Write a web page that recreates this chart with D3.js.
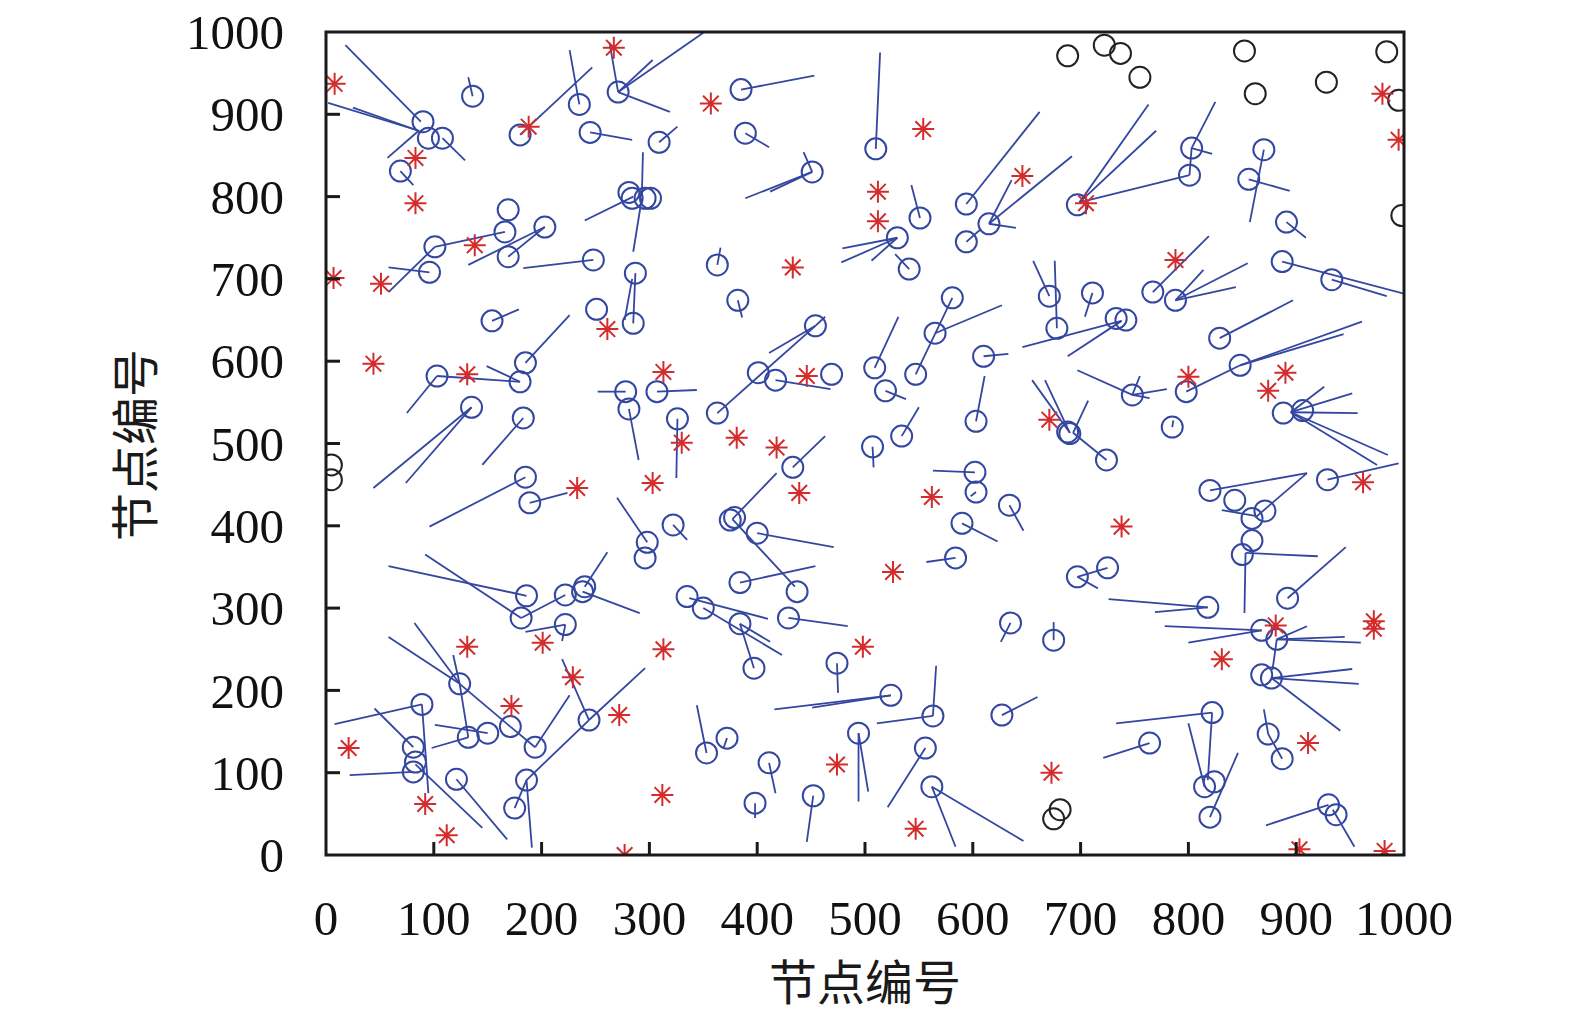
<!DOCTYPE html>
<html>
<head>
<meta charset="utf-8">
<title>节点编号</title>
<script src="https://d3js.org/d3.v7.min.js"></script>
<style>
  html, body { margin: 0; padding: 0; background: #fff; overflow: hidden; }
  svg { display: block; }
  .tick-label { font-family: "Liberation Serif", "DejaVu Serif", serif; font-size: 49px; fill: #111; }
  .axis-title { font-family: "Noto Sans CJK SC", sans-serif; font-size: 48px; fill: #1a1a1a; }
  .link { stroke: #3447a0; stroke-width: 1.8px; fill: none; }
  .node { stroke: #3447a0; stroke-width: 2px; fill: none; }
  .lone { stroke: #222; stroke-width: 2px; fill: none; }
  .anchor { stroke: #d42c2c; stroke-width: 2px; fill: none; }
</style>
</head>
<body>
<svg id="chart" width="1575" height="1018"></svg>
<script>
"use strict";

// tick values for both axes
const ticks = [0, 100, 200, 300, 400, 500, 600, 700, 800, 900, 1000];

// red asterisks (anchor nodes)
const anchors = [
  [8,937],[267,981],[83,847],[83,792],[188,885],[357,913],[554,882],[512,806],[512,770],
  [433,714],[646,825],[705,792],[980,925],[995,869],[788,723],[7,701],[51,694],[138,741],
  [261,639],[44,597],[131,584],[233,446],[313,587],[330,501],[303,452],[446,582],[381,507],
  [418,495],[439,440],[671,529],[800,581],[890,586],[874,564],[962,453],[738,399],[562,435],
  [526,344],[131,253],[201,258],[313,250],[229,216],[172,181],[272,170],[21,130],[92,62],
  [112,24],[312,73],[277,0],[498,253],[474,110],[547,32],[881,279],[972,284],[972,275],
  [831,238],[911,136],[673,100],[903,7],[982,5]
];

// black circles (nodes without links)
const loneNodes = [
  [688,971],[722,984],[737,974],[755,945],[852,977],[862,925],[928,939],[984,976],
  [995,917],[998,777],[5,474],[5,456],[681,55],[675,44]
];

// blue circles (located nodes)
const nodes = [
  [90,891],[95,871],[108,871],[69,831],[136,922],[180,875],[235,912],[271,927],[245,878],
  [309,866],[281,805],[284,798],[296,798],[301,798],[169,784],[166,757],[101,739],[203,763],
  [169,727],[96,708],[248,723],[287,707],
  [385,930],[389,877],[451,830],[510,858],[551,774],[530,750],[541,712],[363,717],[382,674],
  [594,791],[615,767],[594,745],[581,677],[671,679],[678,640],
  [697,790],[801,826],[803,859],[870,857],[856,821],[891,769],[767,684],[788,674],[887,721],
  [933,699],[711,683],
  [154,649],[251,663],[285,646],[103,582],[185,598],[180,575],[135,544],[183,531],[185,459],
  [189,428],[278,563],[281,542],[307,563],[326,530],[322,401],[298,380],[296,361],[240,326],
  [454,643],[401,586],[417,577],[469,584],[363,537],[433,471],[375,407],[379,410],
  [400,391],[384,331],[509,592],[519,564],[547,584],[565,634],[534,509],[507,496],[610,606],
  [603,527],[602,465],[603,441],[634,425],[590,403],[584,361],[733,652],[742,650],[688,514],
  [690,512],[724,480],
  [829,628],[848,595],[798,563],[748,559],[785,520],[888,537],[906,540],[929,456],[820,443],
  [843,431],[871,418],[859,409],[859,382],[850,365],[892,312],[725,349],[697,338],
  [186,315],[181,288],[222,316],[238,320],[222,280],[124,208],[89,183],[81,131],[81,101],
  [83,113],[132,143],[150,148],[171,156],[194,131],[244,164],[186,91],[175,57],[121,92],[335,314],
  [437,320],[350,300],[384,281],[397,227],[429,288],[474,233],[524,194],[563,169],
  [635,282],[627,170],[353,124],[372,142],[411,112],[398,63],[452,72],[494,148],[556,130],[562,83],
  [818,301],[675,261],[868,273],[882,262],[868,219],[877,215],[822,173],[764,136],[874,147],
  [887,117],[815,83],[824,89],[820,46],[930,61],[937,49]
];

// blue line segments: [x1, y1, x2, y2]
const links = [
  [86,880,2,914],[86,880,25,908],[86,880,57,847],[88,891,18,984],[108,871,129,844],
  [69,831,81,814],[136,922,132,945],[180,875,247,957],[235,912,226,978],
  [271,927,263,987],[271,927,350,999],[271,927,303,966],[271,927,319,903],
  [245,878,284,869],[309,866,326,885],[293,800,294,854],[285,800,240,771],[293,798,285,733],
  [101,739,166,757],[203,763,132,717],[169,727,203,763],[96,708,58,714],[101,739,58,684],
  [248,723,183,713],
  [385,930,453,947],[389,877,411,860],[451,830,443,854],[451,830,389,798],[451,830,412,806],
  [510,858,514,975],[551,774,543,814],[530,750,479,737],[530,750,478,720],[530,750,506,722],
  [541,712,528,730],[363,717,366,738],[382,674,386,653],[594,791,662,903],
  [615,767,636,820],[615,767,692,849],[615,767,640,762],[594,745,607,760],
  [671,679,656,722],[678,640,676,722],
  [699,793,763,912],[699,793,770,880],[699,793,801,826],[803,859,825,915],[803,859,822,852],
  [803,859,801,826],[870,857,857,769],[856,821,894,807],[891,769,909,750],[767,684,819,752],
  [788,674,814,711],[788,674,855,719],[788,674,844,690],[887,721,1000,682],[933,699,984,679],
  [711,683,704,654],
  [154,649,179,663],[285,646,287,707],[277,650,284,700],[103,582,75,537],[103,582,180,575],
  [185,598,226,656],[180,575,149,594],[135,544,44,446],[135,544,74,452],[183,531,145,474],
  [185,459,96,399],[189,428,224,440],[278,563,252,563],[281,542,290,480],[307,563,344,565],
  [326,530,325,458],[322,401,335,383],[298,380,270,434],[240,326,261,368],
  [454,643,411,610],[454,643,463,654],[454,643,363,537],[417,577,468,566],
  [433,471,463,509],[377,408,418,464],[400,391,471,374],[377,408,435,326],[384,331,454,351],
  [509,592,531,654],[519,564,538,554],[547,584,581,677],[565,634,627,668],[534,509,550,544],
  [507,496,508,471],[610,606,633,609],[603,527,611,582],[602,465,563,467],[603,441,598,436],
  [634,425,647,394],[590,403,623,381],[584,361,557,356],
  [738,649,646,617],[738,649,688,606],[690,513,655,577],[690,513,667,577],[693,513,707,552],
  [693,513,724,480],
  [829,628,897,674],[848,595,961,648],[848,595,944,633],[798,563,848,595],
  [748,559,697,589],[748,559,780,566],[748,559,764,555],[748,559,755,582],[785,520,786,528],
  [895,538,926,569],[895,538,952,561],[895,538,957,537],[895,538,985,486],[895,538,975,474],
  [929,456,995,476],[820,443,910,464],[862,410,910,464],[862,412,831,419],
  [853,367,920,363],[853,367,852,294],[892,312,946,374],[725,349,697,338],[697,338,716,324],
  [186,315,58,351],[181,288,92,365],[238,320,291,294],[222,316,181,288],[222,280,185,271],
  [222,280,219,260],[124,208,58,265],[124,208,82,282],[124,208,118,243],[124,208,132,143],
  [124,208,171,156],[89,183,8,159],[89,183,95,75],[81,131,45,178],[81,101,22,97],
  [83,110,145,33],[150,148,101,158],[132,143,98,130],[171,156,194,131],[194,131,226,194],
  [244,164,296,227],[244,164,186,91],[244,164,219,238],[186,91,191,9],[186,91,175,57],
  [121,92,168,19],
  [337,312,410,287],[350,300,423,243],[384,281,397,227],[384,281,412,259],
  [429,288,484,278],[474,233,475,197],[524,194,416,177],[524,194,451,179],[563,169,566,230],
  [563,169,511,160],[635,282,626,259],[627,170,660,192],[353,124,344,182],[372,142,369,131],
  [411,112,417,75],[398,63,398,45],[452,72,446,16],[494,148,494,65],[494,148,503,77],
  [556,130,521,58],[562,83,584,10],[562,83,647,17],
  [818,301,726,311],[818,301,769,295],[675,261,675,283],[868,273,778,278],[868,273,800,258],
  [882,262,910,278],[882,262,945,265],[882,262,960,258],[882,262,878,225],
  [877,215,952,226],[877,215,958,208],[877,215,941,151],[822,173,733,160],[822,173,818,91],
  [764,136,721,118],[874,147,870,177],[874,147,887,117],[815,83,800,160],[820,46,846,124],
  [930,61,872,36],[934,55,954,10]
];

const svg = d3.select("#chart");
const plot = { left: 326, right: 1404, top: 32, bottom: 855 };

const x = d3.scaleLinear().domain([0, 1000]).range([plot.left, plot.right]);
const y = d3.scaleLinear().domain([0, 1000]).range([plot.bottom, plot.top]);

svg.append("clipPath").attr("id", "clip")
  .append("rect")
  .attr("x", plot.left).attr("y", plot.top)
  .attr("width", plot.right - plot.left).attr("height", plot.bottom - plot.top);

const g = svg.append("g").attr("clip-path", "url(#clip)");

g.selectAll("line.link")
  .data(links)
  .enter().append("line")
  .attr("class", "link")
  .attr("x1", d => x(d[0])).attr("y1", d => y(d[1]))
  .attr("x2", d => x(d[2])).attr("y2", d => y(d[3]));

g.selectAll("circle.node")
  .data(nodes)
  .enter().append("circle")
  .attr("class", "node")
  .attr("cx", d => x(d[0])).attr("cy", d => y(d[1]))
  .attr("r", 10.5);

g.selectAll("circle.lone")
  .data(loneNodes)
  .enter().append("circle")
  .attr("class", "lone")
  .attr("cx", d => x(d[0])).attr("cy", d => y(d[1]))
  .attr("r", 10.5);

// asterisk: plus and cross overlaid
const s = 11, t = 7.8;
const starPath = `M${-s},0L${s},0M0,${-s}L0,${s}M${-t},${-t}L${t},${t}M${-t},${t}L${t},${-t}`;
g.selectAll("path.anchor")
  .data(anchors)
  .enter().append("path")
  .attr("class", "anchor")
  .attr("d", starPath)
  .attr("transform", d => `translate(${x(d[0])},${y(d[1])})`);

// frame
svg.append("rect")
  .attr("x", plot.left).attr("y", plot.top)
  .attr("width", plot.right - plot.left).attr("height", plot.bottom - plot.top)
  .attr("fill", "none").attr("stroke", "#1a1a1a").attr("stroke-width", 3);

// inward ticks
const axes = svg.append("g").attr("stroke", "#1a1a1a").attr("stroke-width", 3);
axes.selectAll("line.ytick")
  .data(ticks.slice(1, -1))
  .enter().append("line")
  .attr("x1", plot.left).attr("x2", plot.left + 14)
  .attr("y1", d => y(d)).attr("y2", d => y(d));
axes.selectAll("line.xtick")
  .data(ticks.slice(1, -1))
  .enter().append("line")
  .attr("y1", plot.bottom).attr("y2", plot.bottom - 13)
  .attr("x1", d => x(d)).attr("x2", d => x(d));

// tick labels
svg.selectAll("text.ylab")
  .data(ticks)
  .enter().append("text")
  .attr("class", "tick-label")
  .attr("text-anchor", "end")
  .attr("x", plot.left - 42)
  .attr("y", d => y(d))
  .attr("dy", "0.35em")
  .text(d => d);

svg.selectAll("text.xlab")
  .data(ticks)
  .enter().append("text")
  .attr("class", "tick-label")
  .attr("text-anchor", "middle")
  .attr("x", d => x(d))
  .attr("y", 935)
  .text(d => d);

// axis titles
svg.append("text")
  .attr("class", "axis-title")
  .attr("text-anchor", "middle")
  .attr("x", 865).attr("y", 1000)
  .text("节点编号");

svg.append("text")
  .attr("class", "axis-title")
  .attr("text-anchor", "middle")
  .attr("transform", "translate(153,445) rotate(-90)")
  .text("节点编号");
</script>
</body>
</html>
